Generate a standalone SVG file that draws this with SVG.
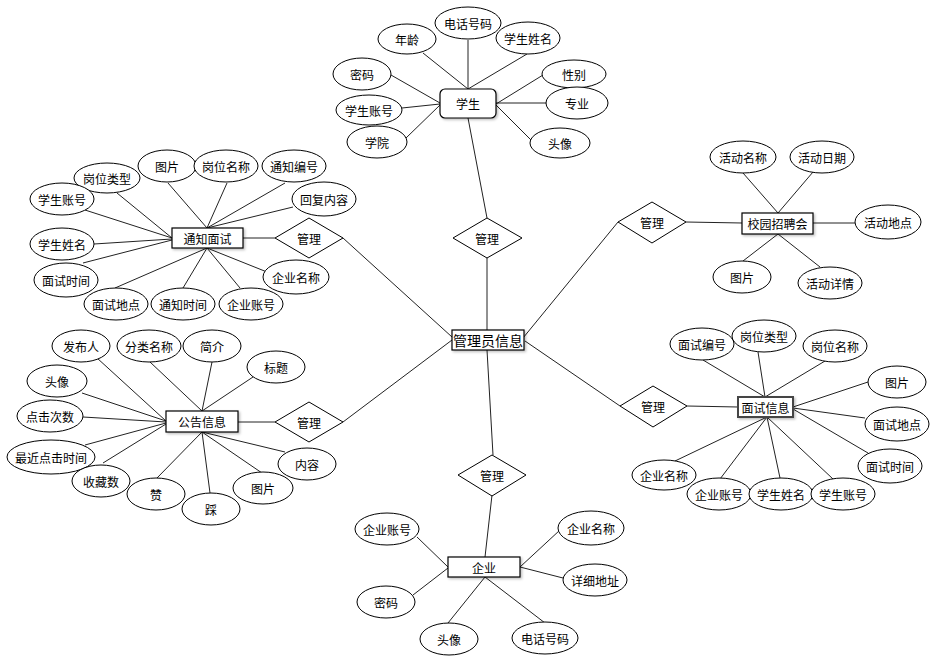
<svg xmlns="http://www.w3.org/2000/svg" width="936" height="663" viewBox="0 0 936 663">
<defs>
<filter id="sh" x="-10%" y="-20%" width="130%" height="160%">
<feDropShadow dx="1.5" dy="1.5" stdDeviation="1" flood-color="#000" flood-opacity="0.25"/>
</filter>
<style>
.e{fill:#fff;stroke:#000;stroke-width:1}
.b{fill:#fff;stroke:#000;stroke-width:1.2;filter:url(#sh)}
.d{fill:#fff;stroke:#000;stroke-width:1}
.c line{stroke:#222;stroke-width:1}
text{font-family:"Noto Sans CJK SC","Liberation Sans",sans-serif;font-size:12px;fill:#000;text-anchor:middle;dominant-baseline:central}
.big{font-size:14px}
</style>
</defs>
<rect width="936" height="663" fill="#fff"/>
<g class="c" id="connectors">
<line x1="423" y1="53" x2="468" y2="89"/>
<line x1="468" y1="40" x2="468" y2="89"/>
<line x1="527" y1="54" x2="468" y2="89"/>
<line x1="391" y1="75" x2="440" y2="103"/>
<line x1="402" y1="108" x2="440" y2="104"/>
<line x1="406" y1="138" x2="440" y2="105"/>
<line x1="543" y1="75" x2="496" y2="104"/>
<line x1="547" y1="103" x2="496" y2="103"/>
<line x1="531" y1="140" x2="496" y2="105"/>
<line x1="468" y1="118" x2="487" y2="218"/>
<line x1="487" y1="258" x2="487" y2="330"/>
<line x1="523" y1="338" x2="618" y2="222"/>
<line x1="686" y1="222" x2="742" y2="223"/>
<line x1="743" y1="173" x2="778" y2="213"/>
<line x1="813" y1="172" x2="778" y2="213"/>
<line x1="813" y1="223" x2="855" y2="223"/>
<line x1="743" y1="261" x2="778" y2="234"/>
<line x1="820" y1="267" x2="778" y2="234"/>
<line x1="525" y1="341" x2="620" y2="406"/>
<line x1="687" y1="406" x2="738" y2="407"/>
<line x1="703" y1="360" x2="765" y2="397"/>
<line x1="758" y1="352" x2="765" y2="397"/>
<line x1="825" y1="361" x2="765" y2="397"/>
<line x1="868" y1="382" x2="793" y2="407"/>
<line x1="865" y1="418" x2="793" y2="408"/>
<line x1="868" y1="453" x2="793" y2="409"/>
<line x1="675" y1="461" x2="767" y2="417"/>
<line x1="720" y1="479" x2="767" y2="417"/>
<line x1="780" y1="478" x2="767" y2="417"/>
<line x1="833" y1="479" x2="767" y2="417"/>
<line x1="487" y1="350" x2="493" y2="455"/>
<line x1="492" y1="495" x2="485" y2="557"/>
<line x1="417" y1="537" x2="448" y2="567"/>
<line x1="413" y1="595" x2="448" y2="568"/>
<line x1="448" y1="623" x2="485" y2="577"/>
<line x1="545" y1="623" x2="485" y2="577"/>
<line x1="560" y1="530" x2="520" y2="567"/>
<line x1="563" y1="578" x2="520" y2="567"/>
<line x1="243" y1="238" x2="275" y2="238"/>
<line x1="343" y1="238" x2="452" y2="337"/>
<line x1="117" y1="193" x2="172" y2="238"/>
<line x1="85" y1="210" x2="172" y2="238"/>
<line x1="94" y1="244" x2="172" y2="239"/>
<line x1="83" y1="263" x2="172" y2="240"/>
<line x1="168" y1="183" x2="207" y2="228"/>
<line x1="227" y1="183" x2="207" y2="228"/>
<line x1="285" y1="183" x2="207" y2="228"/>
<line x1="293" y1="207" x2="207" y2="228"/>
<line x1="115" y1="288" x2="207" y2="248"/>
<line x1="183" y1="288" x2="207" y2="248"/>
<line x1="240" y1="288" x2="207" y2="248"/>
<line x1="267" y1="272" x2="207" y2="248"/>
<line x1="238" y1="422" x2="275" y2="422"/>
<line x1="343" y1="422" x2="452" y2="340"/>
<line x1="97" y1="358" x2="166" y2="421"/>
<line x1="82" y1="393" x2="166" y2="421"/>
<line x1="83" y1="417" x2="166" y2="422"/>
<line x1="85" y1="445" x2="166" y2="423"/>
<line x1="103" y1="463" x2="166" y2="424"/>
<line x1="150" y1="362" x2="202" y2="411"/>
<line x1="212" y1="362" x2="202" y2="411"/>
<line x1="253" y1="377" x2="202" y2="411"/>
<line x1="157" y1="478" x2="202" y2="432"/>
<line x1="210" y1="493" x2="202" y2="432"/>
<line x1="262" y1="473" x2="202" y2="432"/>
<line x1="285" y1="452" x2="202" y2="432"/>
</g>

<g id="admin"><rect class="b" x="452" y="330" width="72" height="20"/><text class="big" x="488" y="340">管理员信息</text></g>

<g id="student"><rect class="b" x="440" y="89" width="56" height="29" rx="5"/><text x="468" y="103.5">学生</text></g>
<g id="s-age"><ellipse class="e" cx="407" cy="39" rx="29" ry="15"/><text x="407" y="39">年龄</text></g>
<g id="s-phone"><ellipse class="e" cx="468" cy="23" rx="33" ry="16"/><text x="468" y="23">电话号码</text></g>
<g id="s-name"><ellipse class="e" cx="528" cy="38" rx="32" ry="16"/><text x="528" y="38">学生姓名</text></g>
<g id="s-pwd"><ellipse class="e" cx="362" cy="74" rx="29" ry="16"/><text x="362" y="74">密码</text></g>
<g id="s-acct"><ellipse class="e" cx="369" cy="110" rx="33" ry="15"/><text x="369" y="110">学生账号</text></g>
<g id="s-college"><ellipse class="e" cx="377" cy="142" rx="30" ry="16"/><text x="377" y="142">学院</text></g>
<g id="s-gender"><ellipse class="e" cx="574" cy="74" rx="32" ry="14"/><text x="574" y="74">性别</text></g>
<g id="s-major"><ellipse class="e" cx="577" cy="103" rx="31" ry="16"/><text x="577" y="103">专业</text></g>
<g id="s-avatar"><ellipse class="e" cx="560" cy="143" rx="30" ry="15"/><text x="560" y="143">头像</text></g>
<g id="rel-student"><polygon class="d" points="487,218 522,238 487,258 453,238"/><text x="487" y="238">管理</text></g>

<g id="campus"><rect class="b" x="742" y="213" width="71" height="21"/><text x="777.5" y="223.5">校园招聘会</text></g>
<g id="rel-campus"><polygon class="d" points="652,202 686,222 652,243 618,222"/><text x="652" y="222">管理</text></g>
<g id="c-name"><ellipse class="e" cx="743" cy="157" rx="33" ry="16"/><text x="743" y="157">活动名称</text></g>
<g id="c-date"><ellipse class="e" cx="822" cy="157" rx="32" ry="16"/><text x="822" y="157">活动日期</text></g>
<g id="c-place"><ellipse class="e" cx="888" cy="222" rx="33" ry="17"/><text x="888" y="222">活动地点</text></g>
<g id="c-pic"><ellipse class="e" cx="742" cy="277" rx="29" ry="16"/><text x="742" y="277">图片</text></g>
<g id="c-detail"><ellipse class="e" cx="830" cy="283" rx="32" ry="16"/><text x="830" y="283">活动详情</text></g>

<g id="interview"><rect class="b" x="738" y="397" width="55" height="20" style="stroke:#444;stroke-width:2"/><text x="765.5" y="407">面试信息</text></g>
<g id="rel-interview"><polygon class="d" points="653,386 687,406 653,427 620,406"/><text x="653" y="406">管理</text></g>
<g id="i-no"><ellipse class="e" cx="702" cy="344" rx="32" ry="16"/><text x="702" y="344">面试编号</text></g>
<g id="i-type"><ellipse class="e" cx="764" cy="336" rx="32" ry="16"/><text x="764" y="336">岗位类型</text></g>
<g id="i-post"><ellipse class="e" cx="835" cy="346" rx="32" ry="16"/><text x="835" y="346">岗位名称</text></g>
<g id="i-pic"><ellipse class="e" cx="897" cy="382" rx="29" ry="16"/><text x="897" y="382">图片</text></g>
<g id="i-place"><ellipse class="e" cx="897" cy="424" rx="32" ry="17"/><text x="897" y="424">面试地点</text></g>
<g id="i-time"><ellipse class="e" cx="890" cy="466" rx="32" ry="17"/><text x="890" y="466">面试时间</text></g>
<g id="i-cname"><ellipse class="e" cx="664" cy="475" rx="32" ry="15"/><text x="664" y="475">企业名称</text></g>
<g id="i-cacct"><ellipse class="e" cx="719" cy="494" rx="32" ry="16"/><text x="719" y="494">企业账号</text></g>
<g id="i-sname"><ellipse class="e" cx="781" cy="494" rx="32" ry="16"/><text x="781" y="494">学生姓名</text></g>
<g id="i-sacct"><ellipse class="e" cx="843" cy="494" rx="32" ry="16"/><text x="843" y="494">学生账号</text></g>

<g id="company"><rect class="b" x="448" y="557" width="72" height="20"/><text x="484" y="567">企业</text></g>
<g id="rel-company"><polygon class="d" points="492,455 526,475 492,496 458,475"/><text x="492" y="475">管理</text></g>
<g id="co-acct"><ellipse class="e" cx="387" cy="529" rx="32" ry="16"/><text x="387" y="529">企业账号</text></g>
<g id="co-pwd"><ellipse class="e" cx="386" cy="602" rx="29" ry="16"/><text x="386" y="602">密码</text></g>
<g id="co-avatar"><ellipse class="e" cx="449" cy="639" rx="29" ry="16"/><text x="449" y="639">头像</text></g>
<g id="co-phone"><ellipse class="e" cx="545" cy="638" rx="33" ry="16"/><text x="545" y="638">电话号码</text></g>
<g id="co-name"><ellipse class="e" cx="591" cy="528" rx="33" ry="17"/><text x="591" y="528">企业名称</text></g>
<g id="co-addr"><ellipse class="e" cx="595" cy="580" rx="32" ry="16"/><text x="595" y="580">详细地址</text></g>

<g id="notice"><rect class="b" x="172" y="228" width="71" height="20"/><text x="207.5" y="238">通知面试</text></g>
<g id="rel-notice"><polygon class="d" points="309,218 343,238 309,258 275,238"/><text x="309" y="238">管理</text></g>
<g id="n-type"><ellipse class="e" cx="107" cy="178" rx="33" ry="15"/><text x="107" y="178">岗位类型</text></g>
<g id="n-pic"><ellipse class="e" cx="167" cy="166" rx="29" ry="16"/><text x="167" y="166">图片</text></g>
<g id="n-post"><ellipse class="e" cx="226" cy="166" rx="32" ry="16"/><text x="226" y="166">岗位名称</text></g>
<g id="n-no"><ellipse class="e" cx="294" cy="166" rx="32" ry="16"/><text x="294" y="166">通知编号</text></g>
<g id="n-reply"><ellipse class="e" cx="324" cy="199" rx="32" ry="17"/><text x="324" y="199">回复内容</text></g>
<g id="n-sacct"><ellipse class="e" cx="62" cy="199" rx="32" ry="16"/><text x="62" y="199">学生账号</text></g>
<g id="n-sname"><ellipse class="e" cx="62" cy="244" rx="32" ry="16"/><text x="62" y="244">学生姓名</text></g>
<g id="n-itime"><ellipse class="e" cx="66" cy="280" rx="32" ry="17"/><text x="66" y="280">面试时间</text></g>
<g id="n-iplace"><ellipse class="e" cx="116" cy="304" rx="32" ry="16"/><text x="116" y="304">面试地点</text></g>
<g id="n-ntime"><ellipse class="e" cx="183" cy="304" rx="32" ry="16"/><text x="183" y="304">通知时间</text></g>
<g id="n-cacct"><ellipse class="e" cx="251" cy="304" rx="32" ry="16"/><text x="251" y="304">企业账号</text></g>
<g id="n-cname"><ellipse class="e" cx="296" cy="277" rx="33" ry="17"/><text x="296" y="277">企业名称</text></g>

<g id="announce"><rect class="b" x="166" y="411" width="72" height="21"/><text x="202" y="421.5">公告信息</text></g>
<g id="rel-announce"><polygon class="d" points="309,402 343,422 309,442 275,422"/><text x="309" y="422">管理</text></g>
<g id="a-pub"><ellipse class="e" cx="81" cy="346" rx="29" ry="16"/><text x="81" y="346">发布人</text></g>
<g id="a-cat"><ellipse class="e" cx="149" cy="346" rx="32" ry="16"/><text x="149" y="346">分类名称</text></g>
<g id="a-intro"><ellipse class="e" cx="212" cy="346" rx="29" ry="16"/><text x="212" y="346">简介</text></g>
<g id="a-title"><ellipse class="e" cx="276" cy="367" rx="29" ry="16"/><text x="276" y="367">标题</text></g>
<g id="a-avatar"><ellipse class="e" cx="57" cy="381" rx="30" ry="16"/><text x="57" y="381">头像</text></g>
<g id="a-clicks"><ellipse class="e" cx="50" cy="416" rx="33" ry="16"/><text x="50" y="416">点击次数</text></g>
<g id="a-last"><ellipse class="e" cx="51" cy="457" rx="44" ry="17"/><text x="51" y="457">最近点击时间</text></g>
<g id="a-fav"><ellipse class="e" cx="101" cy="481" rx="29" ry="16"/><text x="101" y="481">收藏数</text></g>
<g id="a-like"><ellipse class="e" cx="156" cy="494" rx="29" ry="16"/><text x="156" y="494">赞</text></g>
<g id="a-dislike"><ellipse class="e" cx="211" cy="509" rx="29" ry="16"/><text x="211" y="509">踩</text></g>
<g id="a-pic"><ellipse class="e" cx="263" cy="488" rx="30" ry="16"/><text x="263" y="488">图片</text></g>
<g id="a-content"><ellipse class="e" cx="307" cy="464" rx="29" ry="16"/><text x="307" y="464">内容</text></g>
</svg>
